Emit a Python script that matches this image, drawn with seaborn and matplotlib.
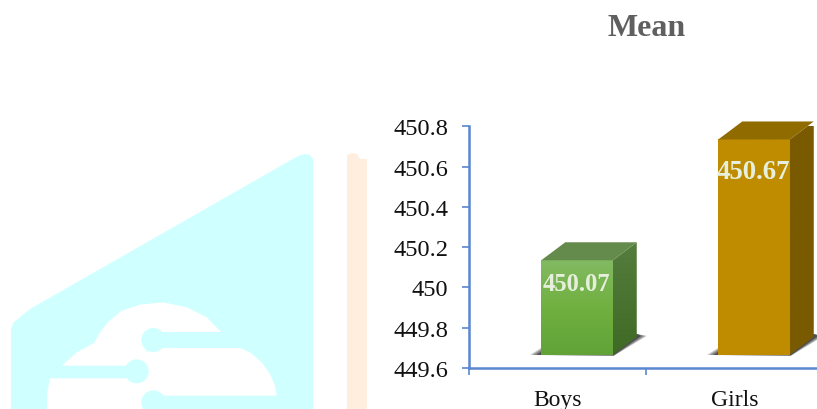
import numpy as np
import matplotlib
matplotlib.use("Agg")
import matplotlib.pyplot as plt
import seaborn as sns
import pandas as pd
from matplotlib.patches import Polygon, Circle, Rectangle
from matplotlib.transforms import IdentityTransform, Affine2D

categories = ["Boys", "Girls"]
means = [450.07, 450.67]
value_labels = ["450.07", "450.67"]
yticks = [449.6, 449.8, 450, 450.2, 450.4, 450.6, 450.8]
ytick_labels = ["449.6", "449.8", "450", "450.2", "450.4", "450.6", "450.8"]
title = "Mean"

W, H = 817, 410
sns.set_theme(style="white")
plt.rcParams["font.family"] = ["Liberation Serif", "DejaVu Serif"]
fig = plt.figure(figsize=(W / 100, H / 100), dpi=100)
fig.patch.set_facecolor("white")

# --- background watermark (pixel coordinates, y down) ---
px = Affine2D().scale(1, -1).translate(0, H)
CY, PE = "#cfffff", "#ffeedd"
def zp(pts):
    return [(x / 3, 140 + y / 3) for x, y in pts]
def add(p):
    p.set_transform(px)
    p.set_clip_on(False)
    fig.patches.append(p)
    p.set_figure(fig)
add(Polygon([(11, 415), (11, 331), (13, 324), (30, 310), (298, 157), (305, 155), (310, 156), (313, 160), (313, 415)], fc=CY, ec="none"))
add(Polygon([(347, 415), (347, 156), (352, 154), (357, 155), (360, 160), (367, 160), (367, 415)], fc=PE, ec="none"))
add(Polygon(zp([(186, 680), (230, 640), (282, 612), (300, 580), (325, 548), (365, 515), (420, 497), (490, 490),
                (560, 505), (620, 535), (665, 580), (450, 580), (430, 680)]), fc="white", ec="none"))
add(Polygon(zp([(150, 718), (430, 718), (430, 640), (490, 627), (720, 627), (750, 640), (785, 670), (810, 705), (825, 740),
                (830, 770), (450, 770), (450, 830), (140, 830), (142, 760)]), fc="white", ec="none"))
for cx, cy in [(460, 603), (410, 697), (460, 790)]:
    x, y = zp([(cx, cy)])[0]
    add(Circle((x, y), 12, fc=CY, ec="none"))
add(Rectangle((62, 140 + 680 / 3), 75, 38 / 3, fc=CY, ec="none"))
add(Rectangle((153, 140 + 580 / 3), 70, 46 / 3, fc=CY, ec="none"))

# --- axes ---
top_px, bot_px = 127.3, 368.9
left_px, right_px = 469, 823
ax = fig.add_axes([left_px / W, 1 - bot_px / H, (right_px - left_px) / W, (bot_px - top_px) / H])
ax.patch.set_alpha(0)

df = pd.DataFrame({"cat": categories, "val": means})
base = min(yticks)
sns.barplot(data=df, x="cat", y="val", ax=ax, width=0.404, color="#70ad47", saturation=1, zorder=3)
ax.set_xlim(-0.5, 1.5)
ax.set_ylim(base, max(yticks))

# 3D look: bars float above the axis floor and shift right
off = np.array([19.5, 13.0])
dx, dy = 24, 18
faces = [
    dict(front=("#82ba62", "#70b040", "#62a338"), side=("#557d3e", "#3f6a24"), top="#648a4c", fs=17.7, lab_dy=23),
    dict(front=("#bf8c00", "#bf8c00", "#bf8c00"), side=("#7a5a00", "#7a5a00"), top="#8f6b00", fs=19.3, lab_dy=32),
]
def rgb(c):
    return np.array(matplotlib.colors.to_rgb(c))
def vgrad(cols, extent, clip, z):
    stops = np.linspace(0, 1, len(cols))
    t = np.linspace(0, 1, 64)
    arr = np.stack([np.interp(t, stops, [rgb(c)[i] for c in cols]) for i in range(3)], axis=-1)[:, None, :]
    im = ax.imshow(arr, extent=extent, origin="upper", aspect="auto", zorder=z,
                   transform=IdentityTransform(), interpolation="bilinear")
    im.set_clip_path(clip)
    return im

fig.canvas.draw()
tr = ax.transData
I = IdentityTransform()
for bar, f, lab, v in zip(list(ax.patches), faces, value_labels, means):
    x0d, x1d = bar.get_x(), bar.get_x() + bar.get_width()
    x0, yb = tr.transform((x0d, base)) + off
    x1, yt = tr.transform((x1d, v)) + off
    bar.set_visible(False)
    front = Polygon([(x0, yb), (x1, yb), (x1, yt), (x0, yt)], transform=I, fc="none", ec="none")
    side = Polygon([(x1, yb), (x1 + dx, yb + dy), (x1 + dx, yt + dy), (x1, yt)], transform=I, fc="none", ec="none")
    # soft floor shadow: nested wedges, darker close to the bar
    for grow, alpha in [(1.0, 0.30), (0.75, 0.40), (0.45, 0.60)]:
        ax.add_patch(Polygon([(x0 - 11 * grow, yb), (x1 + 1, yb - grow), (x1 + dx + 10 * grow, yb + dy + 1),
                              (x1 + dx, yb + dy + 3), (x0, yb + 7 * grow)],
                             transform=I, fc="#2c2c30", ec="none", zorder=2, clip_on=False, alpha=alpha))
    ax.add_patch(front)
    ax.add_patch(side)
    vgrad(f["front"], (x0, x1, yb, yt), front, 3)
    vgrad(f["side"], (x1, x1 + dx, yb, yt + dy), side, 3)
    ax.add_patch(Polygon([(x0, yt), (x1, yt), (x1 + dx, yt + dy), (x0 + dx, yt + dy)], transform=I,
                         fc=f["top"], ec="none", zorder=3, clip_on=False))
    ax.annotate(lab, xy=(x0d, v), xycoords="data", xytext=((x0 + x1) / 2 - 1, yt - f["lab_dy"]), textcoords=I,
                ha="center", va="center", fontsize=f["fs"], fontweight="bold", color="#e6efdc", zorder=5,
                annotation_clip=False)
ax.set_xlim(-0.5, 1.5)
ax.set_ylim(base, max(yticks))

# spines and ticks
BL = "#5b86d0"
for s in ["top", "right"]:
    ax.spines[s].set_visible(False)
for s in ["left", "bottom"]:
    ax.spines[s].set_color(BL)
    ax.spines[s].set_linewidth(1.8)
ax.set_yticks(yticks, ytick_labels)
ax.tick_params(axis="y", left=True, length=5, width=1.2, color=BL, labelsize=17.6, labelcolor="#111111", pad=10)
ax.set_xticks([0, 1], categories)
ax.tick_params(axis="x", which="major", bottom=False, labelsize=17, labelcolor="#111111", pad=9)
ax.set_xticks([-0.5, 0.5, 1.5], minor=True)
ax.tick_params(axis="x", which="minor", bottom=True, length=5, width=1.2, color=BL)
ax.set_xlabel("")
ax.set_ylabel("")

fig.text(647 / W, 1 - 28 / H, title, ha="center", va="center", fontsize=23, fontweight="bold", color="#5f5f5f")
fig.savefig("out.png", dpi=100)
